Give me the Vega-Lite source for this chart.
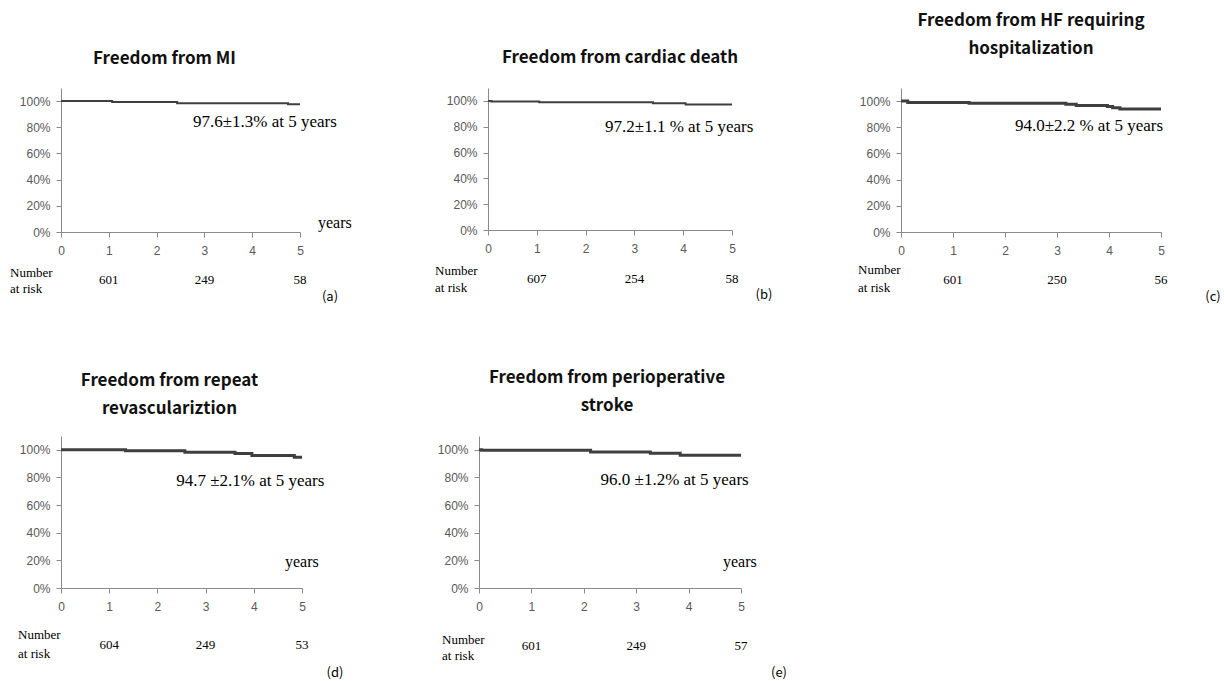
{
"$schema": "https://vega.github.io/schema/vega-lite/v6.json",
"autosize": {"type": "none"},
"padding": {"left": 61, "top": 88, "right": 1163, "bottom": 593},
"background": "white",
"config": {
  "view": {"stroke": null},
  "axisX": {"title": null, "grid": false, "labelFont": "Liberation Sans", "labelFontSize": 12, "labelColor": "#595959", "domainColor": "#8a8a8a", "tickColor": "#8a8a8a", "tickSize": 5, "labelPadding": 8, "labelOverlap": false, "labelFlush": false},
  "axisY": {"title": null, "grid": false, "labelFont": "Liberation Sans", "labelFontSize": 12, "labelColor": "#595959", "domainColor": "#8a8a8a", "tickColor": "#8a8a8a", "tickSize": 5, "labelPadding": 6, "labelOverlap": false, "labelFlush": false},
  "title": {"font": "Noto Sans CJK JP", "fontWeight": "bold", "fontSize": 17, "color": "#111111", "anchor": "middle", "frame": "group", "lineHeight": 28},
  "text": {"font": "Liberation Serif", "color": "#000000"}
},
"datasets": {
  "km": [
    {"panel": "a", "year": 0, "surv": 1.0},
    {"panel": "a", "year": 1.07, "surv": 0.993},
    {"panel": "a", "year": 2.43, "surv": 0.984},
    {"panel": "a", "year": 4.75, "surv": 0.976},
    {"panel": "a", "year": 5.0, "surv": 0.976},
    {"panel": "b", "year": 0, "surv": 1.0},
    {"panel": "b", "year": 0.07, "surv": 0.996},
    {"panel": "b", "year": 1.05, "surv": 0.99},
    {"panel": "b", "year": 3.38, "surv": 0.981},
    {"panel": "b", "year": 4.05, "surv": 0.972},
    {"panel": "b", "year": 5.0, "surv": 0.972},
    {"panel": "c", "year": 0, "surv": 1.0},
    {"panel": "c", "year": 0.13, "surv": 0.99},
    {"panel": "c", "year": 1.31, "surv": 0.983},
    {"panel": "c", "year": 3.17, "surv": 0.975},
    {"panel": "c", "year": 3.37, "surv": 0.967},
    {"panel": "c", "year": 3.97, "surv": 0.958},
    {"panel": "c", "year": 4.07, "surv": 0.95},
    {"panel": "c", "year": 4.21, "surv": 0.94},
    {"panel": "c", "year": 5.0, "surv": 0.94},
    {"panel": "d", "year": 0, "surv": 1.0},
    {"panel": "d", "year": 1.34, "surv": 0.993},
    {"panel": "d", "year": 2.57, "surv": 0.983},
    {"panel": "d", "year": 3.61, "surv": 0.973},
    {"panel": "d", "year": 3.96, "surv": 0.959},
    {"panel": "d", "year": 4.84, "surv": 0.947},
    {"panel": "d", "year": 5.0, "surv": 0.947},
    {"panel": "e", "year": 0, "surv": 1.0},
    {"panel": "e", "year": 0.05, "surv": 0.997},
    {"panel": "e", "year": 2.13, "surv": 0.985},
    {"panel": "e", "year": 3.27, "surv": 0.975},
    {"panel": "e", "year": 3.84, "surv": 0.96},
    {"panel": "e", "year": 5.0, "surv": 0.96}
  ],
  "risk": [
    {"panel": "a", "year": 1, "n": 601}, {"panel": "a", "year": 3, "n": 249}, {"panel": "a", "year": 5, "n": 58},
    {"panel": "b", "year": 1, "n": 607}, {"panel": "b", "year": 3, "n": 254}, {"panel": "b", "year": 5, "n": 58},
    {"panel": "c", "year": 1, "n": 601}, {"panel": "c", "year": 3, "n": 250}, {"panel": "c", "year": 5, "n": 56},
    {"panel": "d", "year": 1, "n": 604}, {"panel": "d", "year": 3, "n": 249}, {"panel": "d", "year": 5, "n": 53},
    {"panel": "e", "year": 1, "n": 601}, {"panel": "e", "year": 3, "n": 249}, {"panel": "e", "year": 5, "n": 57}
  ],
  "one": [{}]
},
"bounds": "flush",
"spacing": 348,
"vconcat": [
  {
    "bounds": "flush",
    "spacing": 188,
    "hconcat": [
      {
        "width": 239, "height": 144,
        "title": {"text": "Freedom from MI", "dx": -16, "offset": 20},
        "layer": [
          {"data": {"name": "km"}, "transform": [{"filter": "datum.panel === 'a'"}],
           "mark": {"type": "line", "interpolate": "step-after", "color": "#3f3f3f", "strokeWidth": 2},
           "encoding": {
             "x": {"field": "year", "type": "quantitative", "scale": {"domain": [0, 5]}, "axis": {"values": [0, 1, 2, 3, 4, 5], "tickCount": 11, "format": "d"}},
             "y": {"field": "surv", "type": "quantitative", "scale": {"domain": [0, 1.1]}, "axis": {"values": [0, 0.2, 0.4, 0.6, 0.8, 1.0], "tickCount": 11, "format": ".0%"}}}},
          {"data": {"name": "risk"}, "transform": [{"filter": "datum.panel === 'a'"}],
           "mark": {"type": "text", "fontSize": 13, "dy": 48, "baseline": "middle"},
           "encoding": {"x": {"field": "year", "type": "quantitative"}, "y": {"datum": 0}, "text": {"field": "n"}}},
          {"data": {"name": "one"}, "mark": {"type": "text", "text": "97.6\u00b11.3% at 5 years", "fontSize": 17, "align": "left", "baseline": "middle"},
           "encoding": {"x": {"datum": 2.76}, "y": {"datum": 0.842}}},
          {"data": {"name": "one"}, "mark": {"type": "text", "text": "years", "fontSize": 16, "align": "left", "baseline": "middle", "dx": 18, "dy": -9},
           "encoding": {"x": {"datum": 5}, "y": {"datum": 0}}},
          {"data": {"name": "one"}, "mark": {"type": "text", "text": "Number", "fontSize": 13, "align": "left", "baseline": "middle", "dx": -51, "dy": 41},
           "encoding": {"x": {"datum": 0}, "y": {"datum": 0}}},
          {"data": {"name": "one"}, "mark": {"type": "text", "text": "at risk", "fontSize": 13, "align": "left", "baseline": "middle", "dx": -51, "dy": 57},
           "encoding": {"x": {"datum": 0}, "y": {"datum": 0}}},
          {"data": {"name": "one"}, "mark": {"type": "text", "text": "(a)", "font": "Noto Sans CJK JP", "fontSize": 13, "align": "center", "baseline": "middle", "dx": 30, "dy": 65},
           "encoding": {"x": {"datum": 5}, "y": {"datum": 0}}}
        ]
      },
      {
        "bounds": "flush",
        "spacing": 169,
        "hconcat": [
          {
            "width": 244, "height": 142,
            "title": {"text": "Freedom from cardiac death", "dx": 10, "offset": 21},
            "layer": [
              {"data": {"name": "km"}, "transform": [{"filter": "datum.panel === 'b'"}],
               "mark": {"type": "line", "interpolate": "step-after", "color": "#3f3f3f", "strokeWidth": 2},
               "encoding": {
                 "x": {"field": "year", "type": "quantitative", "scale": {"domain": [0, 5]}, "axis": {"values": [0, 1, 2, 3, 4, 5], "tickCount": 11, "format": "d"}},
                 "y": {"field": "surv", "type": "quantitative", "scale": {"domain": [0, 1.1]}, "axis": {"values": [0, 0.2, 0.4, 0.6, 0.8, 1.0], "tickCount": 11, "format": ".0%"}}}},
              {"data": {"name": "risk"}, "transform": [{"filter": "datum.panel === 'b'"}],
               "mark": {"type": "text", "fontSize": 13, "dy": 49, "baseline": "middle"},
               "encoding": {"x": {"field": "year", "type": "quantitative"}, "y": {"datum": 0}, "text": {"field": "n"}}},
              {"data": {"name": "one"}, "mark": {"type": "text", "text": "97.2\u00b11.1 % at 5 years", "fontSize": 17, "align": "left", "baseline": "middle"},
               "encoding": {"x": {"datum": 2.40}, "y": {"datum": 0.80}}},
              {"data": {"name": "one"}, "mark": {"type": "text", "text": "Number", "fontSize": 13, "align": "left", "baseline": "middle", "dx": -53, "dy": 41},
               "encoding": {"x": {"datum": 0}, "y": {"datum": 0}}},
              {"data": {"name": "one"}, "mark": {"type": "text", "text": "at risk", "fontSize": 13, "align": "left", "baseline": "middle", "dx": -53, "dy": 58},
               "encoding": {"x": {"datum": 0}, "y": {"datum": 0}}},
              {"data": {"name": "one"}, "mark": {"type": "text", "text": "(b)", "font": "Noto Sans CJK JP", "fontSize": 13, "align": "center", "baseline": "middle", "dx": 32, "dy": 65},
               "encoding": {"x": {"datum": 5}, "y": {"datum": 0}}}
            ]
          },
          {
            "width": 260, "height": 144,
            "title": {"text": ["Freedom from HF requiring", "hospitalization"], "dx": 0, "offset": 30},
            "layer": [
              {"data": {"name": "km"}, "transform": [{"filter": "datum.panel === 'c'"}],
               "mark": {"type": "line", "interpolate": "step-after", "color": "#3f3f3f", "strokeWidth": 3},
               "encoding": {
                 "x": {"field": "year", "type": "quantitative", "scale": {"domain": [0, 5]}, "axis": {"values": [0, 1, 2, 3, 4, 5], "tickCount": 11, "format": "d"}},
                 "y": {"field": "surv", "type": "quantitative", "scale": {"domain": [0, 1.1]}, "axis": {"values": [0, 0.2, 0.4, 0.6, 0.8, 1.0], "tickCount": 11, "format": ".0%"}}}},
              {"data": {"name": "risk"}, "transform": [{"filter": "datum.panel === 'c'"}],
               "mark": {"type": "text", "fontSize": 13, "dy": 48, "baseline": "middle"},
               "encoding": {"x": {"field": "year", "type": "quantitative"}, "y": {"datum": 0}, "text": {"field": "n"}}},
              {"data": {"name": "one"}, "mark": {"type": "text", "text": "94.0\u00b12.2 % at 5 years", "fontSize": 17, "align": "left", "baseline": "middle"},
               "encoding": {"x": {"datum": 2.19}, "y": {"datum": 0.806}}},
              {"data": {"name": "one"}, "mark": {"type": "text", "text": "Number", "fontSize": 13, "align": "left", "baseline": "middle", "dx": -43, "dy": 38},
               "encoding": {"x": {"datum": 0}, "y": {"datum": 0}}},
              {"data": {"name": "one"}, "mark": {"type": "text", "text": "at risk", "fontSize": 13, "align": "left", "baseline": "middle", "dx": -43, "dy": 56},
               "encoding": {"x": {"datum": 0}, "y": {"datum": 0}}},
              {"data": {"name": "one"}, "mark": {"type": "text", "text": "(c)", "font": "Noto Sans CJK JP", "fontSize": 13, "align": "center", "baseline": "middle", "dx": 52, "dy": 65},
               "encoding": {"x": {"datum": 5}, "y": {"datum": 0}}}
            ]
          }
        ]
      }
    ]
  },
  {
    "bounds": "flush",
    "spacing": 177,
    "hconcat": [
      {
        "width": 241, "height": 152,
        "title": {"text": ["Freedom from repeat", "revasculariztion"], "dx": -12, "offset": 18},
        "layer": [
          {"data": {"name": "km"}, "transform": [{"filter": "datum.panel === 'd'"}],
           "mark": {"type": "line", "interpolate": "step-after", "color": "#3f3f3f", "strokeWidth": 3},
           "encoding": {
             "x": {"field": "year", "type": "quantitative", "scale": {"domain": [0, 5]}, "axis": {"values": [0, 1, 2, 3, 4, 5], "tickCount": 11, "format": "d"}},
             "y": {"field": "surv", "type": "quantitative", "scale": {"domain": [0, 1.1]}, "axis": {"values": [0, 0.2, 0.4, 0.6, 0.8, 1.0], "tickCount": 11, "format": ".0%"}}}},
          {"data": {"name": "risk"}, "transform": [{"filter": "datum.panel === 'd'"}],
           "mark": {"type": "text", "fontSize": 13, "dy": 57, "baseline": "middle"},
           "encoding": {"x": {"field": "year", "type": "quantitative"}, "y": {"datum": 0}, "text": {"field": "n"}}},
          {"data": {"name": "one"}, "mark": {"type": "text", "text": "94.7 \u00b12.1% at 5 years", "fontSize": 17, "align": "left", "baseline": "middle"},
           "encoding": {"x": {"datum": 2.39}, "y": {"datum": 0.771}}},
          {"data": {"name": "one"}, "mark": {"type": "text", "text": "years", "fontSize": 16, "align": "left", "baseline": "middle", "dx": -17, "dy": -26},
           "encoding": {"x": {"datum": 5}, "y": {"datum": 0}}},
          {"data": {"name": "one"}, "mark": {"type": "text", "text": "Number", "fontSize": 13, "align": "left", "baseline": "middle", "dx": -43, "dy": 47},
           "encoding": {"x": {"datum": 0}, "y": {"datum": 0}}},
          {"data": {"name": "one"}, "mark": {"type": "text", "text": "at risk", "fontSize": 13, "align": "left", "baseline": "middle", "dx": -43, "dy": 66},
           "encoding": {"x": {"datum": 0}, "y": {"datum": 0}}},
          {"data": {"name": "one"}, "mark": {"type": "text", "text": "(d)", "font": "Noto Sans CJK JP", "fontSize": 13, "align": "center", "baseline": "middle", "dx": 33, "dy": 85},
           "encoding": {"x": {"datum": 5}, "y": {"datum": 0}}}
        ]
      },
      {
        "width": 262, "height": 152,
        "title": {"text": ["Freedom from perioperative", "stroke"], "dx": -3, "offset": 21},
        "layer": [
          {"data": {"name": "km"}, "transform": [{"filter": "datum.panel === 'e'"}],
           "mark": {"type": "line", "interpolate": "step-after", "color": "#3f3f3f", "strokeWidth": 3},
           "encoding": {
             "x": {"field": "year", "type": "quantitative", "scale": {"domain": [0, 5]}, "axis": {"values": [0, 1, 2, 3, 4, 5], "tickCount": 11, "format": "d"}},
             "y": {"field": "surv", "type": "quantitative", "scale": {"domain": [0, 1.1]}, "axis": {"values": [0, 0.2, 0.4, 0.6, 0.8, 1.0], "tickCount": 11, "format": ".0%"}}}},
          {"data": {"name": "risk"}, "transform": [{"filter": "datum.panel === 'e'"}],
           "mark": {"type": "text", "fontSize": 13, "dy": 58, "baseline": "middle"},
           "encoding": {"x": {"field": "year", "type": "quantitative"}, "y": {"datum": 0}, "text": {"field": "n"}}},
          {"data": {"name": "one"}, "mark": {"type": "text", "text": "96.0 \u00b11.2% at 5 years", "fontSize": 17, "align": "left", "baseline": "middle"},
           "encoding": {"x": {"datum": 2.32}, "y": {"datum": 0.782}}},
          {"data": {"name": "one"}, "mark": {"type": "text", "text": "years", "fontSize": 16, "align": "left", "baseline": "middle", "dx": -18, "dy": -26},
           "encoding": {"x": {"datum": 5}, "y": {"datum": 0}}},
          {"data": {"name": "one"}, "mark": {"type": "text", "text": "Number", "fontSize": 13, "align": "left", "baseline": "middle", "dx": -37, "dy": 52},
           "encoding": {"x": {"datum": 0}, "y": {"datum": 0}}},
          {"data": {"name": "one"}, "mark": {"type": "text", "text": "at risk", "fontSize": 13, "align": "left", "baseline": "middle", "dx": -37, "dy": 68},
           "encoding": {"x": {"datum": 0}, "y": {"datum": 0}}},
          {"data": {"name": "one"}, "mark": {"type": "text", "text": "(e)", "font": "Noto Sans CJK JP", "fontSize": 13, "align": "center", "baseline": "middle", "dx": 38, "dy": 85},
           "encoding": {"x": {"datum": 5}, "y": {"datum": 0}}}
        ]
      }
    ]
  }
]
}
